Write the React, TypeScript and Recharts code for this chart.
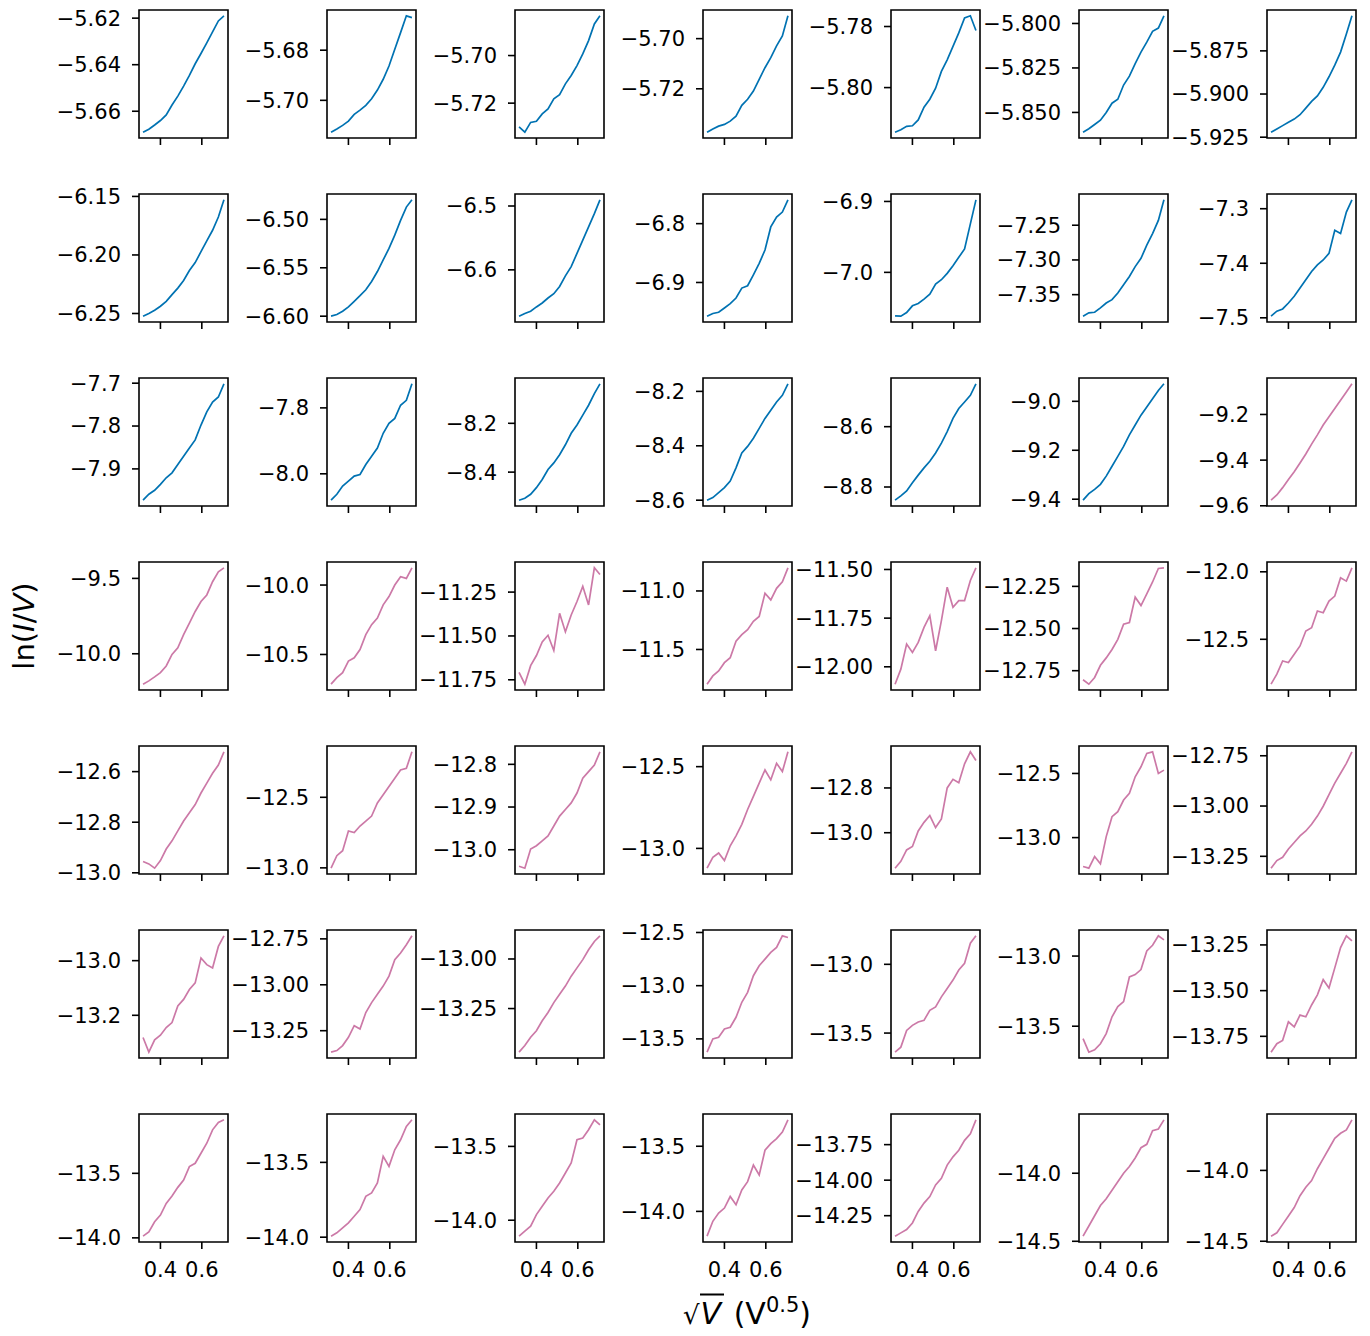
import React from "react"
import { LineChart, Line, XAxis, YAxis, ReferenceArea } from "recharts"

// sqrt(V) sample points shared by all panels
const sqrtV = [0.316, 0.344, 0.372, 0.4, 0.428, 0.456, 0.484, 0.512, 0.54, 0.568, 0.596, 0.624, 0.652, 0.68, 0.707]
const xTicks = [0.4, 0.6]

// ln(I/V), one array per panel, row by row
const row1 = [
  [-5.669, -5.6677, -5.6659, -5.664, -5.6616, -5.6573, -5.6535, -5.6492, -5.6446, -5.6396, -5.6352, -5.6306, -5.6259, -5.6212, -5.619],
  [-5.7127, -5.7114, -5.71, -5.7083, -5.7056, -5.7039, -5.702, -5.6994, -5.6959, -5.6916, -5.6863, -5.6796, -5.673, -5.6663, -5.667],
  [-5.73, -5.7322, -5.7281, -5.7276, -5.7245, -5.7224, -5.7182, -5.7164, -5.7119, -5.7084, -5.7042, -5.6993, -5.6937, -5.6867, -5.6833],
  [-5.7373, -5.736, -5.7349, -5.7342, -5.7329, -5.7309, -5.7266, -5.7242, -5.7209, -5.7162, -5.7116, -5.7076, -5.7029, -5.6989, -5.6909],
  [-5.8146, -5.8138, -5.8127, -5.8125, -5.8106, -5.8064, -5.8038, -5.8002, -5.7947, -5.7909, -5.7865, -5.7821, -5.7772, -5.7765, -5.7813],
  [-5.8611, -5.8592, -5.8568, -5.8544, -5.85, -5.8448, -5.8426, -5.8346, -5.8296, -5.8226, -5.8161, -5.8105, -5.8044, -5.8026, -5.7957],
  [-5.9221, -5.9202, -5.9183, -5.9164, -5.9145, -5.912, -5.9082, -5.9043, -5.9011, -5.8961, -5.89, -5.8833, -5.8757, -5.8652, -5.8547],
]
const row2 = [
  [-6.2523, -6.25, -6.2472, -6.2438, -6.2396, -6.2339, -6.2283, -6.2218, -6.2133, -6.2065, -6.1972, -6.1879, -6.1789, -6.1676, -6.1529],
  [-6.6, -6.5983, -6.5949, -6.5904, -6.5846, -6.5788, -6.5727, -6.5641, -6.5539, -6.5419, -6.53, -6.5163, -6.501, -6.4873, -6.4798],
  [-6.6726, -6.6685, -6.6648, -6.6581, -6.6519, -6.6441, -6.6374, -6.626, -6.6094, -6.5949, -6.5742, -6.5535, -6.5327, -6.512, -6.4903],
  [-6.9573, -6.9528, -6.9506, -6.9433, -6.9359, -6.9264, -6.9095, -6.9056, -6.887, -6.8674, -6.8449, -6.8056, -6.7887, -6.7803, -6.7595],
  [-7.0613, -7.0618, -7.0566, -7.0472, -7.0439, -7.0377, -7.0307, -7.0165, -7.0104, -7.0014, -6.9906, -6.9788, -6.967, -6.9316, -6.8977],
  [-7.381, -7.3762, -7.3753, -7.3691, -7.362, -7.3572, -7.3477, -7.3358, -7.3239, -7.3096, -7.2977, -7.2787, -7.262, -7.243, -7.2134],
  [-7.497, -7.4879, -7.4837, -7.4728, -7.4606, -7.4455, -7.4303, -7.4152, -7.4031, -7.394, -7.3819, -7.3394, -7.3455, -7.3061, -7.2837],
]
const row3 = [
  [-7.973, -7.9592, -7.9499, -7.9361, -7.9207, -7.9092, -7.8899, -7.8707, -7.8515, -7.8323, -7.7977, -7.7669, -7.7439, -7.7323, -7.7015],
  [-8.08, -8.062, -8.037, -8.022, -8.007, -8.002, -7.972, -7.947, -7.922, -7.877, -7.847, -7.832, -7.792, -7.777, -7.727],
  [-8.515, -8.5069, -8.4907, -8.4637, -8.4299, -8.3894, -8.3623, -8.3286, -8.288, -8.2408, -8.207, -8.1664, -8.1259, -8.0786, -8.0381],
  [-8.6, -8.5903, -8.5721, -8.5539, -8.5297, -8.4812, -8.4267, -8.4024, -8.3721, -8.3358, -8.2994, -8.2691, -8.2388, -8.2146, -8.1722],
  [-8.8437, -8.8295, -8.8131, -8.7858, -8.7606, -8.7366, -8.7147, -8.6874, -8.6546, -8.6164, -8.5726, -8.5398, -8.518, -8.4961, -8.4579],
  [-9.404, -9.3771, -9.3596, -9.3393, -9.3057, -9.2653, -9.2249, -9.1844, -9.1373, -9.0969, -9.0565, -9.0228, -8.9891, -8.9555, -8.9285],
  [-9.5755, -9.5524, -9.5206, -9.4845, -9.4513, -9.4123, -9.3733, -9.33, -9.2896, -9.2463, -9.2102, -9.1741, -9.138, -9.1019, -9.0658],
]
const row4 = [
  [-10.2018, -10.1799, -10.1536, -10.125, -10.0812, -10.0044, -9.9606, -9.8729, -9.7961, -9.7193, -9.6536, -9.6097, -9.522, -9.4562, -9.4298],
  [-10.714, -10.6664, -10.6307, -10.5473, -10.5235, -10.464, -10.3569, -10.2854, -10.2378, -10.1426, -10.083, -9.9997, -9.9402, -9.9521, -9.8759],
  [-11.7077, -11.775, -11.6692, -11.6115, -11.5346, -11.4962, -11.5827, -11.3711, -11.4769, -11.3808, -11.3038, -11.2173, -11.3231, -11.1116, -11.15],
  [-11.7966, -11.726, -11.6836, -11.613, -11.5706, -11.4294, -11.3729, -11.3305, -11.2599, -11.2175, -11.0198, -11.0761, -10.9774, -10.9209, -10.8022],
  [-12.0893, -12.012, -11.8831, -11.9261, -11.8746, -11.7972, -11.7371, -11.9175, -11.7629, -11.5911, -11.6942, -11.6598, -11.6598, -11.5567, -11.4915],
  [-12.804, -12.83, -12.79, -12.718, -12.674, -12.624, -12.564, -12.474, -12.464, -12.314, -12.364, -12.294, -12.224, -12.144, -12.14],
  [-12.8325, -12.7586, -12.6601, -12.6724, -12.6108, -12.5493, -12.4384, -12.4138, -12.2906, -12.303, -12.2168, -12.1798, -12.0444, -12.069, -11.9705],
]
const row5 = [
  [-12.9556, -12.9648, -12.9817, -12.9517, -12.9061, -12.8736, -12.8345, -12.7954, -12.7628, -12.7302, -12.6846, -12.6455, -12.6064, -12.5739, -12.5217],
  [-13.0023, -12.9135, -12.8785, -12.7383, -12.75, -12.7033, -12.6683, -12.6332, -12.5398, -12.4814, -12.423, -12.3646, -12.3062, -12.2945, -12.1777],
  [-13.0386, -13.0432, -12.9984, -12.9907, -12.9791, -12.9675, -12.9444, -12.9212, -12.9058, -12.8903, -12.8672, -12.8324, -12.817, -12.8016, -12.7707],
  [-13.121, -13.0545, -13.0283, -13.0746, -12.9839, -12.9234, -12.8529, -12.7622, -12.6815, -12.6009, -12.5202, -12.5807, -12.4799, -12.5303, -12.4093],
  [-13.1584, -13.1276, -13.0769, -13.0615, -12.9923, -12.9538, -12.9231, -12.9769, -12.9385, -12.8, -12.7616, -12.777, -12.6924, -12.6386, -12.677],
  [-13.2254, -13.2383, -13.1476, -13.2046, -12.9922, -12.8367, -12.7978, -12.7072, -12.6553, -12.5258, -12.4481, -12.3444, -12.3314, -12.4999, -12.474],
  [-13.309, -13.2713, -13.2549, -13.2139, -13.1812, -13.1484, -13.1238, -13.091, -13.05, -13.0009, -12.9435, -12.8861, -12.837, -12.7878, -12.7304],
]
const row6 = [
  [-13.2812, -13.335, -13.2896, -13.2727, -13.2448, -13.2266, -13.166, -13.1418, -13.1054, -13.0812, -12.9903, -13.0145, -13.0266, -12.9479, -12.9091],
  [-13.367, -13.358, -13.331, -13.286, -13.223, -13.241, -13.151, -13.097, -13.052, -13.007, -12.953, -12.863, -12.827, -12.782, -12.7334],
  [-13.47, -13.4367, -13.395, -13.3617, -13.3117, -13.27, -13.22, -13.1783, -13.1366, -13.0866, -13.0449, -13.0032, -12.9532, -12.9116, -12.8832],
  [-13.625, -13.5, -13.4844, -13.4063, -13.3906, -13.2969, -13.1563, -13.0625, -12.9063, -12.8125, -12.75, -12.6875, -12.6406, -12.5313, -12.5469],
  [-13.639, -13.6024, -13.4805, -13.4439, -13.4195, -13.4073, -13.3341, -13.3097, -13.2366, -13.1756, -13.1146, -13.0414, -12.9927, -12.8463, -12.7927],
  [-13.5889, -13.6851, -13.6683, -13.625, -13.5529, -13.4327, -13.3605, -13.3245, -13.149, -13.1322, -13.0961, -12.9639, -12.923, -12.8557, -12.8846],
  [-13.8367, -13.7906, -13.7721, -13.6707, -13.6983, -13.6338, -13.643, -13.5784, -13.5231, -13.44, -13.4862, -13.3755, -13.2648, -13.2002, -13.2279],
]
const row7 = [
  [-13.987, -13.9534, -13.8756, -13.8238, -13.7331, -13.6761, -13.6088, -13.5518, -13.4481, -13.4222, -13.3445, -13.2668, -13.1631, -13.1061, -13.0854],
  [-13.9933, -13.9711, -13.9378, -13.9045, -13.86, -13.8156, -13.7267, -13.7045, -13.6378, -13.46, -13.5267, -13.4156, -13.3489, -13.26, -13.2156],
  [-14.1081, -14.0743, -14.0405, -13.9617, -13.9054, -13.8491, -13.8041, -13.7478, -13.6803, -13.6127, -13.4551, -13.4438, -13.3875, -13.3199, -13.3537],
  [-14.1904, -14.0762, -14.0127, -13.9747, -13.8858, -13.9493, -13.8351, -13.7716, -13.6447, -13.7209, -13.5305, -13.4798, -13.4417, -13.3909, -13.297],
  [-14.3942, -14.3709, -14.3477, -14.3012, -14.2198, -14.1616, -14.1151, -14.0337, -13.9872, -13.8941, -13.836, -13.7894, -13.7197, -13.6731, -13.5754],
  [-14.4625, -14.3875, -14.3125, -14.2375, -14.1875, -14.125, -14.0625, -14.0, -13.95, -13.8875, -13.8125, -13.7875, -13.6875, -13.675, -13.6075],
  [-14.4643, -14.4405, -14.381, -14.3214, -14.2619, -14.1786, -14.1191, -14.0714, -13.9881, -13.9167, -13.8452, -13.7738, -13.7381, -13.7143, -13.6429],
]

// y tick labels per panel
const row1Ticks = [["-5.66", "-5.64", "-5.62"], ["-5.70", "-5.68"], ["-5.72", "-5.70"], ["-5.72", "-5.70"], ["-5.80", "-5.78"], ["-5.850", "-5.825", "-5.800"], ["-5.925", "-5.900", "-5.875"]]
const row2Ticks = [["-6.25", "-6.20", "-6.15"], ["-6.60", "-6.55", "-6.50"], ["-6.6", "-6.5"], ["-6.9", "-6.8"], ["-7.0", "-6.9"], ["-7.35", "-7.30", "-7.25"], ["-7.5", "-7.4", "-7.3"]]
const row3Ticks = [["-7.9", "-7.8", "-7.7"], ["-8.0", "-7.8"], ["-8.4", "-8.2"], ["-8.6", "-8.4", "-8.2"], ["-8.8", "-8.6"], ["-9.4", "-9.2", "-9.0"], ["-9.6", "-9.4", "-9.2"]]
const row4Ticks = [["-10.0", "-9.5"], ["-10.5", "-10.0"], ["-11.75", "-11.50", "-11.25"], ["-11.5", "-11.0"], ["-12.00", "-11.75", "-11.50"], ["-12.75", "-12.50", "-12.25"], ["-12.5", "-12.0"]]
const row5Ticks = [["-13.0", "-12.8", "-12.6"], ["-13.0", "-12.5"], ["-13.0", "-12.9", "-12.8"], ["-13.0", "-12.5"], ["-13.0", "-12.8", "-12.6"], ["-13.0", "-12.5"], ["-13.25", "-13.00", "-12.75"]]
const row6Ticks = [["-13.2", "-13.0"], ["-13.25", "-13.00", "-12.75"], ["-13.25", "-13.00"], ["-13.5", "-13.0", "-12.5"], ["-13.5", "-13.0"], ["-13.5", "-13.0"], ["-13.75", "-13.50", "-13.25"]]
const row7Ticks = [["-14.0", "-13.5"], ["-14.0", "-13.5"], ["-14.0", "-13.5"], ["-14.0", "-13.5"], ["-14.25", "-14.00", "-13.75"], ["-14.5", "-14.0"], ["-14.5", "-14.0"]]

const rows = [row1, row2, row3, row4, row5, row6, row7]
const rowTicks = [row1Ticks, row2Ticks, row3Ticks, row4Ticks, row5Ticks, row6Ticks, row7Ticks]
const BLUE_PANELS = 20 // the first 20 panels are blue, the rest pink

const BLUE = "#0072B2"
const PINK = "#CC79A7"
const FONT = "DejaVu Sans"

const PLOT_W = 89
const PLOT_H = 128
const COL_STEP = 188
const ROW_STEP = 184
const LEFT0 = 139
const TOP0 = 10
const Y_AXIS_W = 120
const X_AXIS_H = 45
const PAD = 14

const xMin = Math.min(...sqrtV)
const xMax = Math.max(...sqrtV)
const xDomain = [xMin - (xMax - xMin) * 0.05, xMax + (xMax - xMin) * 0.05]

const tickStyle = { fill: "#000", fontSize: 21, fontFamily: FONT }

function Panel({ ys, tickLabels, color, showX, left, top }: any) {
  const data = sqrtV.map((x, i) => ({ x, y: ys[i] }))
  const lo = Math.min(...ys)
  const hi = Math.max(...ys)
  const pad = (hi - lo) * 0.05
  const yDomain = [lo - pad, hi + pad]
  const tickVals = tickLabels
    .map(Number)
    .filter((v: number) => v >= yDomain[0] - 1e-9 && v <= yDomain[1] + 1e-9)

  const yLabel = (v: number) => {
    const t = tickLabels.find((s: string) => Math.abs(Number(s) - v) < 1e-9)
    return (t ?? String(v)).replace("-", "\u2212")
  }

  return (
    <div style={{ position: "absolute", left: left - Y_AXIS_W, top: top - PAD }}>
      <LineChart
        width={Y_AXIS_W + PLOT_W + 4}
        height={PAD + PLOT_H + X_AXIS_H}
        data={data}
        margin={{ top: PAD, right: 4, bottom: 0, left: 0 }}
      >
        <XAxis
          dataKey="x"
          type="number"
          domain={xDomain}
          ticks={xTicks}
          interval={0}
          height={X_AXIS_H}
          axisLine={false}
          stroke="#000"
          tickLine={{ stroke: "#000", strokeWidth: 1.6 }}
          tickSize={7}
          tickMargin={13}
          tick={tickStyle}
          tickFormatter={(v: number) => (showX ? v.toFixed(1) : "")}
        />
        <YAxis
          type="number"
          domain={yDomain}
          ticks={tickVals}
          interval={0}
          width={Y_AXIS_W}
          axisLine={false}
          stroke="#000"
          tickLine={{ stroke: "#000", strokeWidth: 1.6 }}
          tickSize={7}
          tickMargin={11}
          tick={tickStyle}
          tickFormatter={yLabel}
        />
        <ReferenceArea
          x1={xDomain[0]}
          x2={xDomain[1]}
          y1={yDomain[0]}
          y2={yDomain[1]}
          fill="none"
          stroke="#000"
          strokeWidth={1.6}
          ifOverflow="visible"
        />
        <Line
          type="linear"
          dataKey="y"
          stroke={color}
          strokeWidth={1.7}
          dot={false}
          isAnimationActive={false}
        />
      </LineChart>
    </div>
  )
}

export default function App() {
  return (
    <div
      style={{
        position: "absolute",
        left: 0,
        top: 0,
        width: 1370,
        height: 1336,
        background: "#fff",
        fontFamily: FONT,
        color: "#000",
      }}
    >
      {rows.map((row, r) =>
        row.map((ys, c) => (
          <Panel
            key={`${r}-${c}`}
            ys={ys}
            tickLabels={rowTicks[r][c]}
            color={r * 7 + c < BLUE_PANELS ? BLUE : PINK}
            showX={r === rows.length - 1}
            left={LEFT0 + c * COL_STEP}
            top={TOP0 + r * ROW_STEP}
          />
        ))
      )}

      <div
        style={{
          position: "absolute",
          left: 24,
          top: 626,
          transform: "translate(-50%, -50%) rotate(-90deg)",
          fontSize: 29,
          whiteSpace: "nowrap",
        }}
      >
        ln(<i>I</i>/<i>V</i>)
      </div>

      <div
        style={{
          position: "absolute",
          left: 747,
          top: 1313,
          transform: "translate(-50%, -50%)",
          fontSize: 30,
          whiteSpace: "nowrap",
        }}
      >
        <span style={{ fontSize: 26 }}>√</span>
        <span style={{ borderTop: "2px solid #000", fontStyle: "italic", padding: "0 3px 0 1px" }}>V</span> (V
        <span style={{ fontSize: 21, position: "relative", top: -12 }}>0.5</span>)
      </div>
    </div>
  )
}
